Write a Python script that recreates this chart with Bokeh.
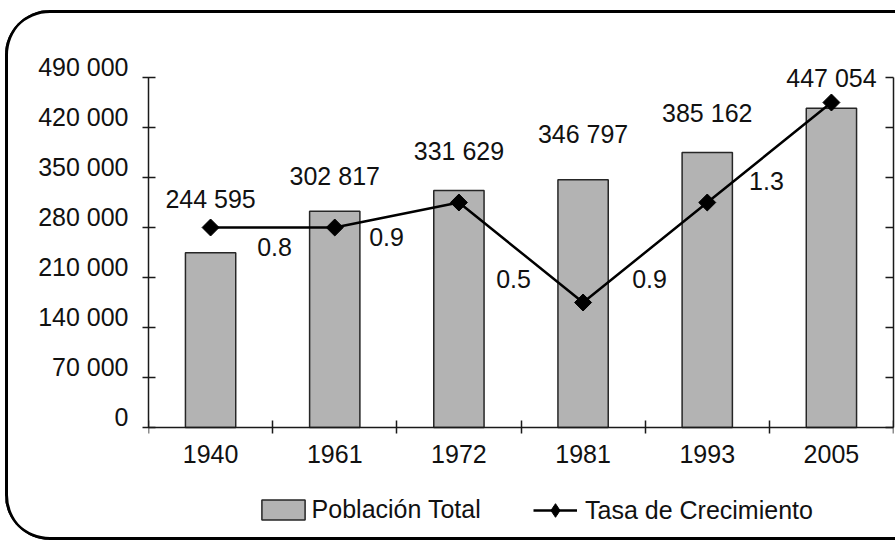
import math
from bokeh.plotting import figure
from bokeh.models import (Range1d, LinearAxis, FixedTicker, ColumnDataSource,
                          Legend, LegendItem, CustomLabelingPolicy)
from bokeh.core.properties import value
from bokeh.embed import file_html
from bokeh.resources import INLINE

# ---------------- data ----------------
years = ["1940", "1961", "1972", "1981", "1993", "2005"]
poblacion = [244595, 302817, 331629, 346797, 385162, 447054]
tasa = [0.8, 0.8, 0.9, 0.5, 0.9, 1.3]
pop_ticks = [0, 70000, 140000, 210000, 280000, 350000, 420000, 490000]
tasa_ticks = [0.0, 0.2, 0.4, 0.6, 0.8, 1.0, 1.2, 1.4]

# ---------------- layout helpers (not data) ----------------
bar_label_y = [320600, 352800, 387800, 411600, 441000, 490000]
tasa_label_x = [1.015, 1.917, 2.94, 4.035, 4.977]
tasa_label_y = [0.724, 0.764, 0.596, 0.596, 0.988]
POP_MAX = 490000
TASA_MAX = 1.4
POP_HIGH = 532000      # headroom above the axis top for the labels
POP_LOW = -141400      # frame continues below zero to hold the legend
TASA_HIGH = POP_HIGH * TASA_MAX / POP_MAX
TASA_LOW = POP_LOW * TASA_MAX / POP_MAX
YLAB_SHIFT = 15400     # y tick labels sit a little above their ticks
XLAB_Y = -49000        # line on which the year labels rest

FONT = "Liberation Sans"
FS = "25px"
INK = "#111111"
AX = "#1a1a1a"
HIDE = "for (const i of indices) indices.unset(i); return indices"

def fmt(n):
    return f"{n:,}".replace(",", " ")

xs = [i + 0.5 for i in range(len(years))]
src = ColumnDataSource(dict(x=xs, pop=poblacion, tasa=tasa,
                            lab=[fmt(v) for v in poblacion], laby=bar_label_y))
tsrc = ColumnDataSource(dict(x=tasa_label_x, y=tasa_label_y,
                             t=[f"{v:.1f}" for v in tasa[1:]]))

p = figure(width=890, height=530, output_backend="svg", toolbar_location=None,
           x_range=Range1d(0, 6), y_range=Range1d(POP_LOW, POP_HIGH),
           x_axis_location=None, y_axis_location=None,
           min_border_left=143, min_border_right=2,
           min_border_top=37, min_border_bottom=12)
for g in p.grid:
    g.visible = False
p.outline_line_color = None
p.background_fill_color = "white"
p.border_fill_alpha = 0
p.extra_y_ranges = {"tasa": Range1d(TASA_LOW, TASA_HIGH),
                    "ylab": Range1d(POP_LOW - YLAB_SHIFT, POP_HIGH - YLAB_SHIFT)}
p.styles = {"position": "relative", "left": "5px", "top": "10px",
            "border-radius": "45px 0 0 45px",
            "box-shadow": "inset 3px 0 0 0 #000, inset 0 3px 0 0 #000, inset 0 -3px 0 0 #000"}

def style_line(ax):
    ax.axis_line_width = 1.5
    ax.major_tick_line_width = 1.5
    ax.minor_tick_line_width = 1.5
    ax.axis_line_color = AX
    ax.major_tick_line_color = AX
    ax.minor_tick_line_color = AX

def no_labels(ax):
    ax.major_label_policy = CustomLabelingPolicy(code=HIDE)
    ax.major_label_text_font_size = "0px"
    ax.major_label_standoff = 0

def only_labels(ax):
    ax.axis_line_color = None
    ax.major_tick_line_color = None
    ax.minor_tick_line_color = None
    ax.major_tick_in = 0
    ax.major_tick_out = 0
    ax.minor_tick_in = 0
    ax.minor_tick_out = 0
    ax.major_label_text_font = FONT
    ax.major_label_text_font_size = FS
    ax.major_label_text_color = INK

# main left axis: line and ticks
yax = LinearAxis(ticker=FixedTicker(ticks=pop_ticks, minor_ticks=[]),
                 bounds=(0, POP_MAX))
yax.major_tick_in = 7
yax.major_tick_out = 6
yax.minor_tick_in = 0
yax.minor_tick_out = 0
no_labels(yax)
style_line(yax)
p.add_layout(yax, "left")

# left tick labels
ylab = LinearAxis(y_range_name="ylab", bounds=(0, POP_MAX),
                  ticker=FixedTicker(ticks=pop_ticks, minor_ticks=[]),
                  major_label_overrides={t: fmt(t) for t in pop_ticks})
only_labels(ylab)
ylab.major_label_standoff = 14
p.add_layout(ylab, "left")

# right (secondary) axis
rax = LinearAxis(y_range_name="tasa", bounds=(0, TASA_MAX),
                 ticker=FixedTicker(ticks=tasa_ticks, minor_ticks=[]))
rax.major_tick_in = 8
rax.major_tick_out = 0
rax.minor_tick_in = 0
rax.minor_tick_out = 0
no_labels(rax)
style_line(rax)
p.add_layout(rax, "right")

# x axis line with category boundary ticks, at y = 0
xax = LinearAxis(ticker=FixedTicker(ticks=xs, minor_ticks=list(range(len(years) + 1))),
                 fixed_location=0)
xax.major_tick_in = 0
xax.major_tick_out = 0
xax.minor_tick_in = 7
xax.minor_tick_out = 6
no_labels(xax)
style_line(xax)
p.add_layout(xax, "below")

# year labels
xlab = LinearAxis(ticker=FixedTicker(ticks=xs, minor_ticks=[]),
                  fixed_location=XLAB_Y,
                  major_label_overrides={x: y for x, y in zip(xs, years)})
only_labels(xlab)
xlab.major_label_standoff = 0
p.add_layout(xlab, "above")

bars = p.vbar(x="x", top="pop", bottom=0, width=0.405, source=src,
              fill_color="#b3b3b3", line_color="#262626", line_width=1.5)
line = p.line(x="x", y="tasa", source=src, y_range_name="tasa",
              line_color="black", line_width=2.5)
pts = p.scatter(x="x", y="tasa", source=src, y_range_name="tasa",
                marker="square", size=12, angle=math.pi / 4,
                fill_color="black", line_color="black")
# swatch marker for the legend (diamond shape, no visible point in the plot)
key = p.scatter(x=[float("nan")], y=[float("nan")], y_range_name="tasa",
                marker="diamond", size=12, fill_color="black", line_color="black")

p.text(x="x", y="laby", text="lab", source=src, text_align="center",
       text_baseline="middle", text_font=value(FONT), text_font_size=FS,
       text_color=INK)
p.text(x="x", y="y", text="t", source=tsrc, y_range_name="tasa",
       text_align="center", text_baseline="middle", text_font=value(FONT),
       text_font_size=FS, text_color=INK)

common = dict(orientation="horizontal", label_text_font=FONT,
              label_text_font_size=FS, label_text_color=INK,
              border_line_color=None, background_fill_alpha=0,
              padding=0, margin=0)
leg_a = Legend(items=[LegendItem(label="Población Total", renderers=[bars])],
               location=(107.6, 4), glyph_width=54, glyph_height=25,
               label_standoff=2, **common)
leg_b = Legend(items=[LegendItem(label="Tasa de Crecimiento", renderers=[line, key])],
               location=(385, 1), glyph_width=44, glyph_height=34,
               label_standoff=8, **common)
p.add_layout(leg_a, "center")
p.add_layout(leg_b, "center")

open("out.html", "w").write(file_html(p, INLINE))
